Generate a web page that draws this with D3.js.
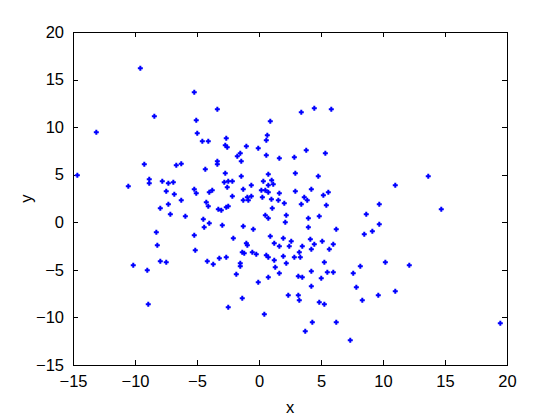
<!DOCTYPE html>
<html><head><meta charset="utf-8">
<script src="https://cdn.jsdelivr.net/npm/d3@7"></script>
<style>html,body{margin:0;padding:0;background:#fff;}svg{display:block;}</style>
</head><body>
<svg id="chart" width="560" height="420"></svg>
<script>
const xTicks = [-15,-10,-5,0,5,10,15,20];
const yTicks = [-15,-10,-5,0,5,10,15,20];
const xValues = [
-9.57,-8.44,-13.12,
-5.22,-3.36,-5.06,-4.98,-4.57,-4.09,-2.64,0.91,0.67,0.59,
3.41,4.46,5.83,
-14.65,-9.25,-6.67,-6.27,-8.85,-8.85,-10.54,-7.8,-7.31,-6.91,-7.48,-6.83,-7.31,-7.96,-7.15,-8.28,-8.2,
-2.72,-2.56,-1.02,-0.06,0.59,1.64,-1.51,-1.75,-1.43,-3.36,-3.36,-4.33,-2.72,-1.43,0.75,
-2.8,-2.48,-2.15,-2.56,-0.62,0.35,1.02,1.15,0.75,-1.27,-5.22,-5.06,-4.01,-3.77,0.19,0.51,0.75,1.64,
-2.15,-0.62,-0.94,-0.86,-1.27,0.27,1.0,-6.27,-4.25,-4.09,1.56,2.04,-2.64,-2.48,-3.28,-3.04,1.07,
-5.94,0.51,0.75,2.2,-4.49,-4.01,2.12,-4.42,-2.96,-1.27,-0.46,-5.22,-2.07,0.91,1.96,1.23,1.64,
-1.02,-0.94,-5.14,-1.35,-1.19,-0.54,-0.22,
3.81,2.85,5.35,2.93,4.78,2.93,4.22,3.65,3.89,5.19,5.59,3.41,5.43,10.99,9.7,8.65,3.98,4.86,3.98,6.23,
9.7,9.14,8.49,2.6,2.44,4.14,4.46,5.1,3.49,4.22,5.67,5.99,3.25,
13.65,14.7,
-10.14,-9.01,-7.96,-7.48,-8.93,
-4.17,-3.69,-3.2,-2.64,-1.51,-1.51,-1.83,0.59,0.75,1.23,1.96,2.2,1.31,1.64,0.75,-0.06,-1.35,-2.48,0.43,2.36,
2.85,3.33,5.27,4.22,3.17,3.49,5.02,5.51,5.99,7.6,8.17,10.19,4.22,7.85,10.99,3.17,3.25,4.86,5.27,8.33,9.62,
4.3,6.23,3.73,7.36,
12.12,19.46
];
const yValues = [
16.18,11.14,9.46,
13.66,11.88,10.72,9.35,8.51,8.51,8.83,10.61,9.14,8.62,
11.56,11.98,11.88,
4.94,6.09,5.99,6.15,4.52,4.1,3.78,4.31,4.1,4.2,3.26,2.94,1.89,1.47,0.84,-1.05,-2.42,
8.09,7.88,7.99,7.78,7.04,6.72,7.25,6.94,6.41,6.41,6.09,5.57,5.15,4.83,5.04,
4.2,4.31,4.31,3.68,3.89,4.31,4.41,3.99,3.89,3.47,3.47,3.05,3.15,3.36,3.36,3.36,3.15,3.05,
2.73,2.73,2.63,2.31,2.31,2.63,2.42,2.31,2.1,1.68,2.31,2.0,1.57,1.68,1.36,1.26,1.47,
0.63,0.73,0.42,0.73,0.31,-0.11,0.0,-0.53,-0.32,-0.42,-0.74,-1.37,-1.68,-1.47,-1.68,-2.21,-2.52,
-2.21,-2.42,-2.95,-3.16,-3.26,-3.16,-3.37,
7.57,6.83,7.25,5.15,4.83,3.26,3.47,2.63,2.31,2.84,3.15,1.89,1.78,3.89,1.89,0.84,0.42,0.63,-0.53,-0.74,
-0.21,-0.95,-1.26,-2.0,-2.52,-1.79,-2.31,-2.0,-2.52,-2.84,-2.84,-2.31,-3.16,
4.83,1.36,
-4.52,-5.05,-4.1,-4.21,-8.62,
-4.1,-4.42,-3.79,-3.68,-4.31,-4.63,-5.47,-3.47,-3.68,-4.0,-3.58,-4.31,-4.73,-5.36,-5.78,-6.31,-7.99,-8.94,-9.67,-7.67,
-3.68,-3.68,-4.21,-5.15,-5.68,-5.78,-5.89,-5.26,-5.26,-5.36,-4.63,-4.21,-6.73,-6.83,-7.25,-7.67,-8.2,-8.41,-8.62,-8.2,-7.67,
-10.51,-10.51,-11.46,-12.41,
-4.52,-10.62
];

const svg = d3.select("#chart");
const W = 560, H = 420;
svg.append("rect").attr("width",W).attr("height",H).attr("fill","#fff");
const mL = 73, mR = 507, mT = 32, mB = 365;
const x = d3.scaleLinear().domain([-15,20]).range([mL,mR]);
const y = d3.scaleLinear().domain([-15,20]).range([mB,mT]);
const font = "'Liberation Sans', Arial, Helvetica, sans-serif";
const fs = "16.5px";
const tickLen = 5;

const pts = xValues.map((v,i)=>({x:v,y:yValues[i]}));

const axB = d3.axisBottom(x).tickValues(xTicks).tickSizeInner(-tickLen).tickSizeOuter(0).tickPadding(10).tickFormat(d3.format("d"));
const axL = d3.axisLeft(y).tickValues(yTicks).tickSizeInner(-tickLen).tickSizeOuter(0).tickPadding(9).tickFormat(d3.format("d"));
const axT = d3.axisTop(x).tickValues(xTicks).tickSizeInner(-tickLen).tickSizeOuter(0).tickFormat("");
const axR = d3.axisRight(y).tickValues(yTicks).tickSizeInner(-tickLen).tickSizeOuter(0).tickFormat("");

function style(g){
  g.selectAll("path.domain").remove();
  g.selectAll("line").attr("stroke","#000").attr("stroke-width",1).attr("shape-rendering","crispEdges");
  g.selectAll("text").attr("fill","#000").style("font-family",font).style("font-size",fs);
}
svg.append("g").attr("transform",`translate(0,${mB})`).call(axB).call(style);
svg.append("g").attr("transform",`translate(${mL},0)`).call(axL).call(style);
svg.append("g").attr("transform",`translate(0,${mT})`).call(axT).call(style);
svg.append("g").attr("transform",`translate(${mR},0)`).call(axR).call(style);

svg.append("rect").attr("x",mL).attr("y",mT).attr("width",mR-mL).attr("height",mB-mT)
  .attr("fill","none").attr("stroke","#000").attr("stroke-width",1).attr("shape-rendering","crispEdges");

const plus = "M-1,-2.5h2v1.5h1.5v2h-1.5v1.5h-2v-1.5h-1.5v-2h1.5z";
svg.append("g").selectAll("path").data(pts).join("path")
  .attr("d",plus)
  .attr("transform",d=>`translate(${x(d.x)},${y(d.y)})`)
  .attr("fill","#0000ff");

svg.append("text").attr("x",(mL+mR)/2).attr("y",413).attr("text-anchor","middle")
  .style("font-family",font).style("font-size",fs).text("x");
svg.append("text").attr("transform",`translate(32,${(mT+mB)/2}) rotate(-90)`).attr("text-anchor","middle")
  .style("font-family",font).style("font-size",fs).text("y");
</script>
</body></html>
